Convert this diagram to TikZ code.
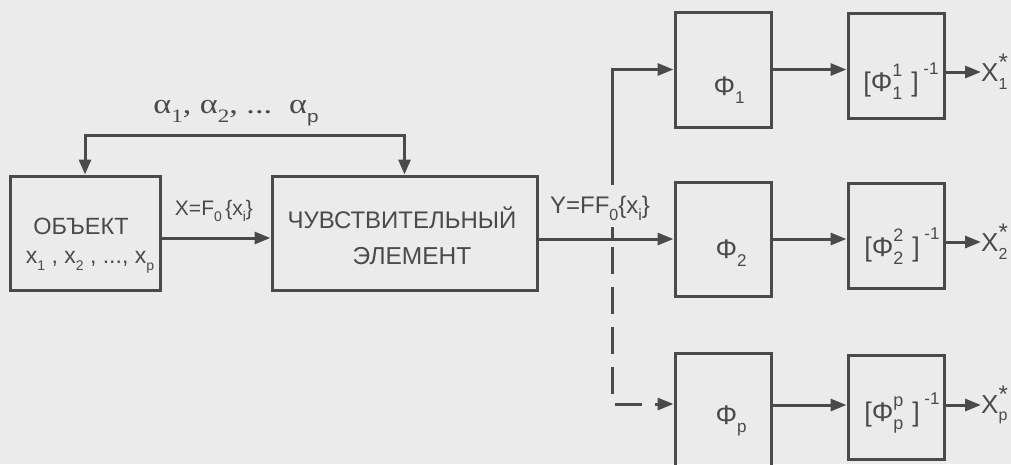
\documentclass[tikz,border=0pt]{standalone}
\usepackage{fontspec}
\setmainfont{Liberation Sans}
\newfontfamily\serifgr{Liberation Serif}
\usetikzlibrary{arrows.meta}
\definecolor{bg}{HTML}{EBEBEB}
\definecolor{ink}{HTML}{4A4A4A}
\newcommand\fsz[1]{\fontsize{#1}{#1}\selectfont}
\newcommand\lo[2][14]{\raisebox{-0.3em}{\fsz{#1}#2}}
\newcommand\ssp[3][14]{\rlap{\raisebox{0.55em}{\fsz{#1}#3}}\raisebox{-0.3em}{\fsz{#1}#2}}
\newcommand\xstar[1]{\rlap{\raisebox{0.42em}{\fsz{24}*}}\raisebox{-0.3em}{\fsz{16}#1}}
\tikzset{
  blk/.style={draw=ink, line width=3pt, rectangle, inner sep=0pt},
  txt/.style={text=ink, inner sep=0pt},
  ln/.style={draw=ink, line width=3pt},
  arr/.style={ln, -{Triangle[length=16pt,width=12pt]}},
  darr/.style={ln, -{Triangle[length=16pt,width=12pt]}, dash pattern=on 27pt off 13pt, dash phase=32pt},
}
\begin{document}
\begin{tikzpicture}[x=1pt,y=-1pt]
\useasboundingbox (0,0) rectangle (1011,464);
\fill[bg] (0,0) rectangle (1011,464);
\clip (0,0) rectangle (1011,464);
% blocks
\node[blk, minimum width=150pt, minimum height=114pt] (obj) at (85,233) {};
\node[blk, minimum width=265pt, minimum height=114pt] (ce) at (404.5,233) {};
\node[blk, minimum width=96pt, minimum height=115pt] (f1) at (723,69.5) {};
\node[blk, minimum width=96pt, minimum height=114pt] (f2) at (723,239) {};
\node[blk, minimum width=96pt, minimum height=115pt] (fp) at (723,410.5) {};
\node[blk, minimum width=96pt, minimum height=105pt] (g1) at (896,65.5) {};
\node[blk, minimum width=96pt, minimum height=105pt] (g2) at (896,235.5) {};
\node[blk, minimum width=96pt, minimum height=104pt] (gp) at (896,407) {};
% block texts
\node[txt, font=\fsz{23.5}] (tobj) at (81,226) {ОБЪЕКТ};
\node[txt, font=\fsz{23}] (txs) at (90,262) {x\lo[14]{1} , x\lo[14]{2} , ..., x\lo[14]{p}};
\node[txt, font=\fsz{24}] (tce1) at (402,218) {ЧУВСТВИТЕЛЬНЫЙ};
\node[txt, font=\fsz{24.5}] (tce2) at (412,256) {ЭЛЕМЕНТ};
\node[txt, font=\fsz{27}] (tf1) at (729,90) {Φ\lo[17]{1}};
\node[txt, font=\fsz{27}] (tf2) at (731,253) {Φ\lo[17]{2}};
\node[txt, font=\fsz{27}] (tfp) at (731,421) {Φ\lo[17]{p}};
\node[txt, font=\fsz{27}] (tg1) at (901,81) {[Φ\ssp[18]{1}{1}\,\,]\,\raisebox{0.62em}{\fsz{17}-1}};
\node[txt, font=\fsz{27}] (tg2) at (902,246) {[Φ\ssp[18]{2}{2}\,\,]\,\raisebox{0.62em}{\fsz{17}-1}};
\node[txt, font=\fsz{27}] (tgp) at (902,413) {[Φ\ssp[18]{p}{p}\,\,]\,\raisebox{0.62em}{\fsz{17}-1}};
% outputs
\node[txt, font=\fsz{26}, anchor=west] (o1) at (981,72) {X\xstar{1}};
\node[txt, font=\fsz{26}, anchor=west] (o2) at (981,242) {X\xstar{2}};
\node[txt, font=\fsz{26}, anchor=west] (op) at (981,405) {X\xstar{p}};
% labels
\node[txt, font=\fsz{28}] (alab) at (236,113) {\scalebox{1.22}[1]{\serifgr α\lo[19]{1}, α\lo[19]{2}, ...\ \ α\lo[19]{\normalfont\fsz{17}p}}};
\node[txt, font=\fsz{21}] (xlab) at (214,211) {X=F\lo[14]{0}\,\{x\lo[14]{i}\}};
\node[txt, font=\fsz{24}] (ylab) at (600,208) {Y=FF\lo[16]{0}\{x\lo[16]{i}\}};
% coordinates
\coordinate (fb) at (0,135);
\coordinate (br) at (612,239);
\coordinate (gapb) at (612,227);
\coordinate (gapt) at (612,185);
% connectors
\draw[ln, {Triangle[length=15pt,width=12pt]}-{Triangle[length=15pt,width=12pt]}] (obj.north) -- (obj.north |- fb) -| (ce.north);
\draw[arr] ([yshift=-5pt]obj.east) -- ([yshift=-5pt]ce.west);
\draw[arr] ([yshift=-6pt]ce.east) -- (f2.west);
\draw[ln] (br) -- (gapb);
\draw[arr] (gapt) |- (f1.west);
\draw[darr] (br) |- ([yshift=6.5pt]fp.west);
\draw[arr] (f1.east) -- (f1.east -| g1.west);
\draw[arr] (f2.east) -- (f2.east -| g2.west);
\draw[arr] ([yshift=5.5pt]fp.east) -- ([yshift=5.5pt]fp.east -| gp.west);
\draw[arr] (g1.east |- o1.west) -- (o1.west);
\draw[arr] (g2.east |- o2.west) -- (o2.west);
\draw[arr] (gp.east |- op.west) -- (op.west);
\end{tikzpicture}
\end{document}
